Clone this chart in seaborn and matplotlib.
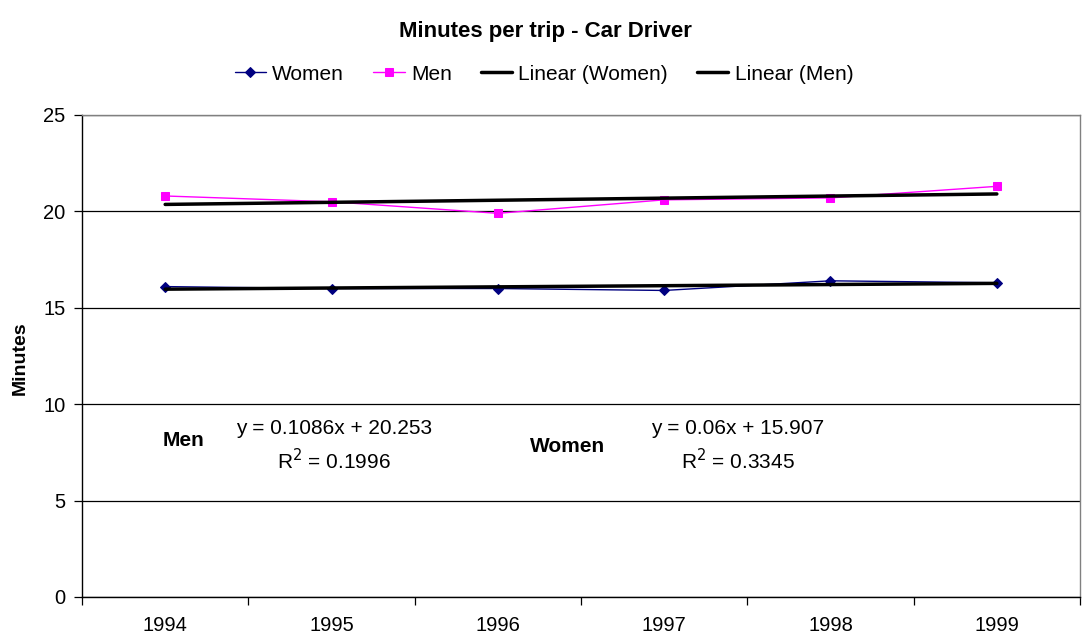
import numpy as np
import matplotlib
matplotlib.use("Agg")
import matplotlib.pyplot as plt
import seaborn as sns
from matplotlib.ticker import FixedLocator, NullFormatter

years = ["1994", "1995", "1996", "1997", "1998", "1999"]
women = [16.1, 16.0, 16.0, 15.9, 16.4, 16.3]
men = [20.8, 20.5, 19.9, 20.6, 20.7, 21.3]
yticks = [0, 5, 10, 15, 20, 25]

sns.set_theme(style="white")
plt.rcParams['font.family'] = ['Liberation Sans', 'DejaVu Sans']
plt.rcParams.update({"text.color": "black", "axes.labelcolor": "black",
                     "xtick.color": "black", "ytick.color": "black"})

W, H = 1083, 637
fig = plt.figure(figsize=(W / 100, H / 100), dpi=100)
ax = fig.add_axes([82 / W, 1 - 597 / H, (1080 - 82) / W, (597 - 115) / H])

pos = np.arange(len(years))
t = pos + 1
wfit = np.polyfit(t, women, 1)
mfit = np.polyfit(t, men, 1)
w_trend = np.polyval(wfit, t)
m_trend = np.polyval(mfit, t)

sns.lineplot(x=pos, y=women, ax=ax, color="#000080", marker="D", markersize=5,
             markeredgecolor="#000080", linewidth=1, label="Women", zorder=4)
sns.lineplot(x=pos, y=men, ax=ax, color="#FF00FF", marker="s", markersize=6,
             markeredgecolor="#FF00FF", linewidth=1, label="Men", zorder=4)
sns.lineplot(x=pos, y=w_trend, ax=ax, color="black", linewidth=2.5,
             label="Linear (Women)", zorder=5)
sns.lineplot(x=pos, y=m_trend, ax=ax, color="black", linewidth=2.5,
             label="Linear (Men)", zorder=5)

ax.set_xlim(-0.5, len(years) - 0.5)
ax.set_ylim(0, 25)
ax.set_yticks(yticks)
ax.set_yticklabels([str(v) for v in yticks], fontsize=14.5)
ax.yaxis.grid(True, color="black", linewidth=0.9)
ax.set_axisbelow(True)

ax.xaxis.set_major_locator(FixedLocator(np.arange(-0.5, len(years), 1.0)))
ax.xaxis.set_major_formatter(NullFormatter())
ax.xaxis.set_minor_locator(FixedLocator(pos))
ax.set_xticklabels(years, minor=True, fontsize=14.5)
ax.tick_params(axis="x", which="major", direction="out", length=6, width=0.9,
               color="black", bottom=True)
ax.tick_params(axis="x", which="minor", length=0, pad=14)
ax.tick_params(axis="y", direction="out", length=6, width=0.9, color="black",
               left=True, pad=6)

for side in ["left", "bottom"]:
    ax.spines[side].set_color("black")
    ax.spines[side].set_linewidth(1)
for side in ["top", "right"]:
    ax.spines[side].set_color("#808080")
    ax.spines[side].set_linewidth(1)

ax.set_xlabel("")
ax.set_ylabel("")
fig.text(20 / W, 1 - 358 / H, "Minutes", rotation=90, ha="center",
         va="center", fontsize=14, fontweight="bold")

ax.legend(loc="center", bbox_to_anchor=(544 / W, 1 - 74 / H),
          bbox_transform=fig.transFigure, ncol=4, frameon=False, fontsize=15,
          handlelength=1.5, handletextpad=0.3, columnspacing=1.4)

fig.text(545 / W, 1 - 31 / H, "Minutes per trip - Car Driver", ha="center",
         va="center", fontsize=16, fontweight="bold")

ann = 15
fig.text(184 / W, 1 - 440 / H, "Men", ha="center", va="center", fontsize=ann,
         fontweight="bold")
fig.text(334 / W, 1 - 429 / H, f"y = {mfit[0]:.4f}x + {mfit[1]:.3f}",
         ha="center", va="center", fontsize=ann)
fig.text(334 / W, 1 - 461 / H, "R$^2$ = 0.1996", ha="center", va="center",
         fontsize=ann)
fig.text(568 / W, 1 - 446 / H, "Women", ha="center", va="center", fontsize=ann,
         fontweight="bold")
fig.text(738 / W, 1 - 429 / H, f"y = {wfit[0]:.2f}x + {wfit[1]:.3f}",
         ha="center", va="center", fontsize=ann)
fig.text(738 / W, 1 - 461 / H, "R$^2$ = 0.3345", ha="center", va="center",
         fontsize=ann)

fig.savefig("out.png", dpi=100, facecolor="white")
